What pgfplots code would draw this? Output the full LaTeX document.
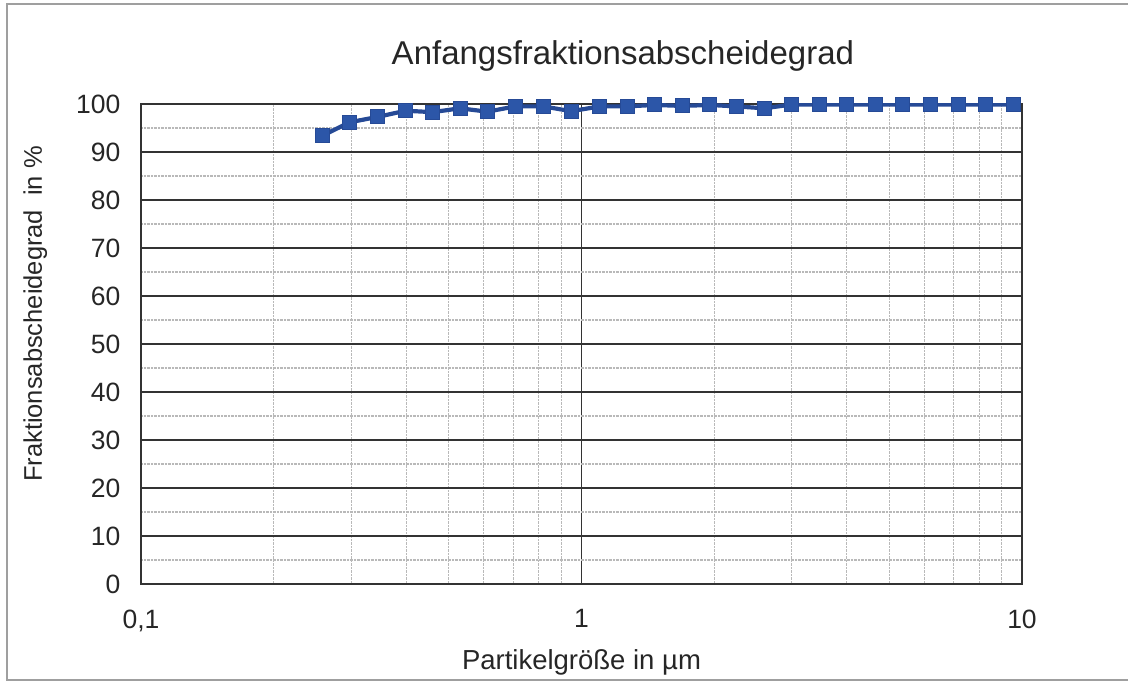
\documentclass[border=0pt]{standalone}
\usepackage{pgfplots}
\pgfplotsset{compat=1.18}
\usepackage{fontspec}
\setmainfont{Liberation Sans}
\definecolor{seriefill}{RGB}{44,86,168}
\definecolor{serieline}{RGB}{38,74,150}
\pgfplotstableread{
x y
0.258 93.4
0.298 96.2
0.344 97.3
0.399 98.6
0.459 98.3
0.530 99.1
0.611 98.4
0.708 99.5
0.819 99.5
0.948 98.5
1.100 99.5
1.269 99.5
1.466 99.8
1.692 99.6
1.954 99.8
2.246 99.5
2.600 99.1
3.005 99.9
3.470 99.9
4.000 99.9
4.640 99.9
5.360 99.9
6.210 99.9
7.170 99.9
8.280 99.9
9.560 99.9
}\datatable
\begin{document}
\begin{tikzpicture}
\useasboundingbox (0pt,0pt) rectangle (1128pt,683pt);
\draw[gray!75, line width=1.2pt] (1128pt,679pt) -- (7pt,679pt) -- (7pt,3pt) -- (1128pt,3pt);
\begin{axis}[
  at={(141pt,99pt)}, anchor=south west,
  scale only axis, width=881pt, height=480pt,
  xmode=log, xmin=0.1, xmax=10, ymin=0, ymax=100,
  xtick={0.1,1,10}, xticklabels={{0,1},1,10},
  minor xtick={0.2,0.3,0.4,0.5,0.6,0.7,0.8,0.9,2,3,4,5,6,7,8,9},
  ytick={0,10,20,30,40,50,60,70,80,90,100},
  minor ytick={5,15,25,35,45,55,65,75,85,95},
  grid=both,
  major grid style={black!80, line width=1.3pt},
  minor grid style={gray!55, densely dotted, line width=1.1pt},
  major tick length=0pt, minor tick length=0pt,
  axis line style={black!80, line width=1.4pt},
  /pgf/number format/assume math mode=true,
  tick label style={font=\fontsize{26.5}{31}\selectfont, text=black!85},
  xticklabel style={yshift=-22pt},
  yticklabel style={xshift=-17pt},
  xlabel={Partikelgröße in µm},
  ylabel={Fraktionsabscheidegrad\ \ in \%},
  xlabel style={at={(axis description cs:0.5,-0.163)}, anchor=center, font=\fontsize{27.5}{32}\selectfont, text=black!85},
  ylabel style={at={(axis description cs:-0.12,0.5625)}, anchor=center, font=\fontsize{25.5}{30}\selectfont, text=black!85},
  title={Anfangsfraktionsabscheidegrad},
  title style={at={(axis description cs:0.547,1.0875)}, anchor=center, font=\fontsize{33}{38}\selectfont, text=black!85},
]
\addplot[serieline, line width=4.2pt, mark=square*, mark size=7pt,
  mark options={fill=seriefill, draw=serieline, line width=1pt}] table[x=x,y=y] {\datatable};
\end{axis}
\end{tikzpicture}
\end{document}
